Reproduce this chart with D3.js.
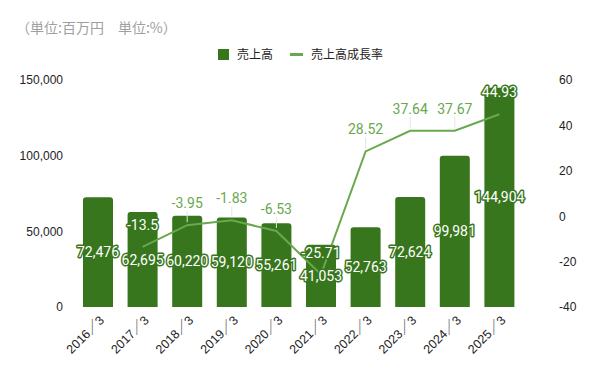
<!DOCTYPE html>
<html><head><meta charset="utf-8">
<script src="https://cdn.jsdelivr.net/npm/d3@7"></script>
<style>body{margin:0;background:#fff}svg{display:block}</style>
</head><body><svg id="c" width="600" height="371"></svg>
<script>
const categories = ["2016／3","2017／3","2018／3","2019／3","2020／3","2021／3","2022／3","2023／3","2024／3","2025／3"];
const sales = [72476,62695,60220,59120,55261,41053,52763,72624,99981,144904];
const growth = [null,-13.5,-3.95,-1.83,-6.53,-25.71,28.52,37.64,37.67,44.93];
const leftTicks = [0,50000,100000,150000];
const rightTicks = [-40,-20,0,20,40,60];
const seriesNames = ["売上高","売上高成長率"];
const unitNote = "（単位:百万円　単位:%）";

(function(){
const barColor = "#38761d", lineColor = "#6aa84f";
const svg = d3.select("#c");
const plotTop = 80, plotBottom = 307;
const x = d3.scaleBand().domain(categories).range([75.7, 521.7]).paddingInner(0.327).paddingOuter(0.1635);
const yL = d3.scaleLinear().domain([0,150000]).range([plotBottom, plotTop]);
const yR = d3.scaleLinear().domain([-40,60]).range([plotBottom, plotTop]);
const latin = "'Liberation Sans', Arial, 'Noto Sans CJK JP', sans-serif";
const lblFont = "Roboto, 'Liberation Sans', sans-serif";

svg.append("text").attr("x",16).attr("y",33).attr("fill","#a0a0a0").attr("font-size",14)
  .attr("font-family","'Noto Sans CJK JP', sans-serif").text(unitNote);

// legend
const lg = svg.append("g").attr("font-family","'Noto Sans CJK JP', sans-serif").attr("font-size",12).attr("fill","#222");
lg.append("rect").attr("x",218).attr("y",49).attr("width",11).attr("height",11).attr("fill",barColor);
lg.append("text").attr("x",237).attr("y",59).text(seriesNames[0]);
lg.append("rect").attr("x",290).attr("y",53).attr("width",13).attr("height",3).attr("fill",lineColor);
lg.append("text").attr("x",311).attr("y",59).text(seriesNames[1]);

// axes
const axL = svg.append("g").attr("transform","translate(71,0)")
  .call(d3.axisLeft(yL).tickValues(leftTicks).tickFormat(d3.format(",")).tickSize(0).tickPadding(8));
const axR = svg.append("g").attr("transform","translate(551,0)")
  .call(d3.axisRight(yR).tickValues(rightTicks).tickFormat(d=>d).tickSize(0).tickPadding(8));
[axL,axR].forEach(a=>{a.select(".domain").remove();a.selectAll("text").attr("font-family",latin).attr("font-size",12).attr("fill","#222");});

const axX = svg.append("g").attr("transform",`translate(0,${plotBottom})`)
  .call(d3.axisBottom(x).tickSize(0).tickPadding(0));
axX.select(".domain").remove();
axX.selectAll("text").attr("font-family",latin).attr("font-size",12.5).attr("fill","#222")
  .attr("text-anchor","end").attr("dy",0)
  .attr("transform","translate(7,14) rotate(-45)");

// bars with rounded top
const r = 3;
svg.append("g").selectAll("path").data(sales).join("path")
  .attr("fill",barColor)
  .attr("d",(d,i)=>{const x0=x(categories[i]),w=x.bandwidth(),y0=yL(d),y1=yL(0);
    return `M${x0},${y1}V${y0+r}Q${x0},${y0} ${x0+r},${y0}H${x0+w-r}Q${x0+w},${y0} ${x0+w},${y0+r}V${y1}Z`;});

// line
const cx = i => x(categories[i]) + x.bandwidth()/2;
const line = d3.line().defined(d=>d!=null).x((d,i)=>cx(i)).y(d=>yR(d));
svg.append("path").datum(growth).attr("d",line).attr("fill","none").attr("stroke",lineColor).attr("stroke-width",2);

// bar labels
svg.append("g").selectAll("text").data(sales).join("text")
  .attr("x",(d,i)=>cx(i)).attr("y",d=>(yL(d)+yL(0))/2).attr("dy","0.36em")
  .attr("text-anchor","middle").attr("font-family",lblFont).attr("font-size",14)
  .attr("fill","#fff").attr("stroke",barColor).attr("stroke-width",3).attr("stroke-linejoin","round")
  .attr("paint-order","stroke").text(d=>d3.format(",")(d));

// line labels
const lg2 = svg.append("g");
growth.forEach((d,i)=>{
  if(d==null) return;
  const py = yR(d), ly = py - 22;
  const over = ly > yL(sales[i]);
  if(!over){
    lg2.append("line").attr("x1",cx(i)).attr("x2",cx(i)).attr("y1",ly+8).attr("y2",py-3)
      .attr("stroke","#e4e4e4").attr("stroke-width",1);
  }
  const t = lg2.append("text").attr("x",cx(i)).attr("y",ly).attr("dy","0.36em")
    .attr("text-anchor","middle").attr("font-family",lblFont).attr("font-size",14).text(d);
  if(over) t.attr("fill","#fff").attr("stroke",barColor).attr("stroke-width",3).attr("stroke-linejoin","round").attr("paint-order","stroke");
  else t.attr("fill",lineColor);
});
})();
</script></body></html>
